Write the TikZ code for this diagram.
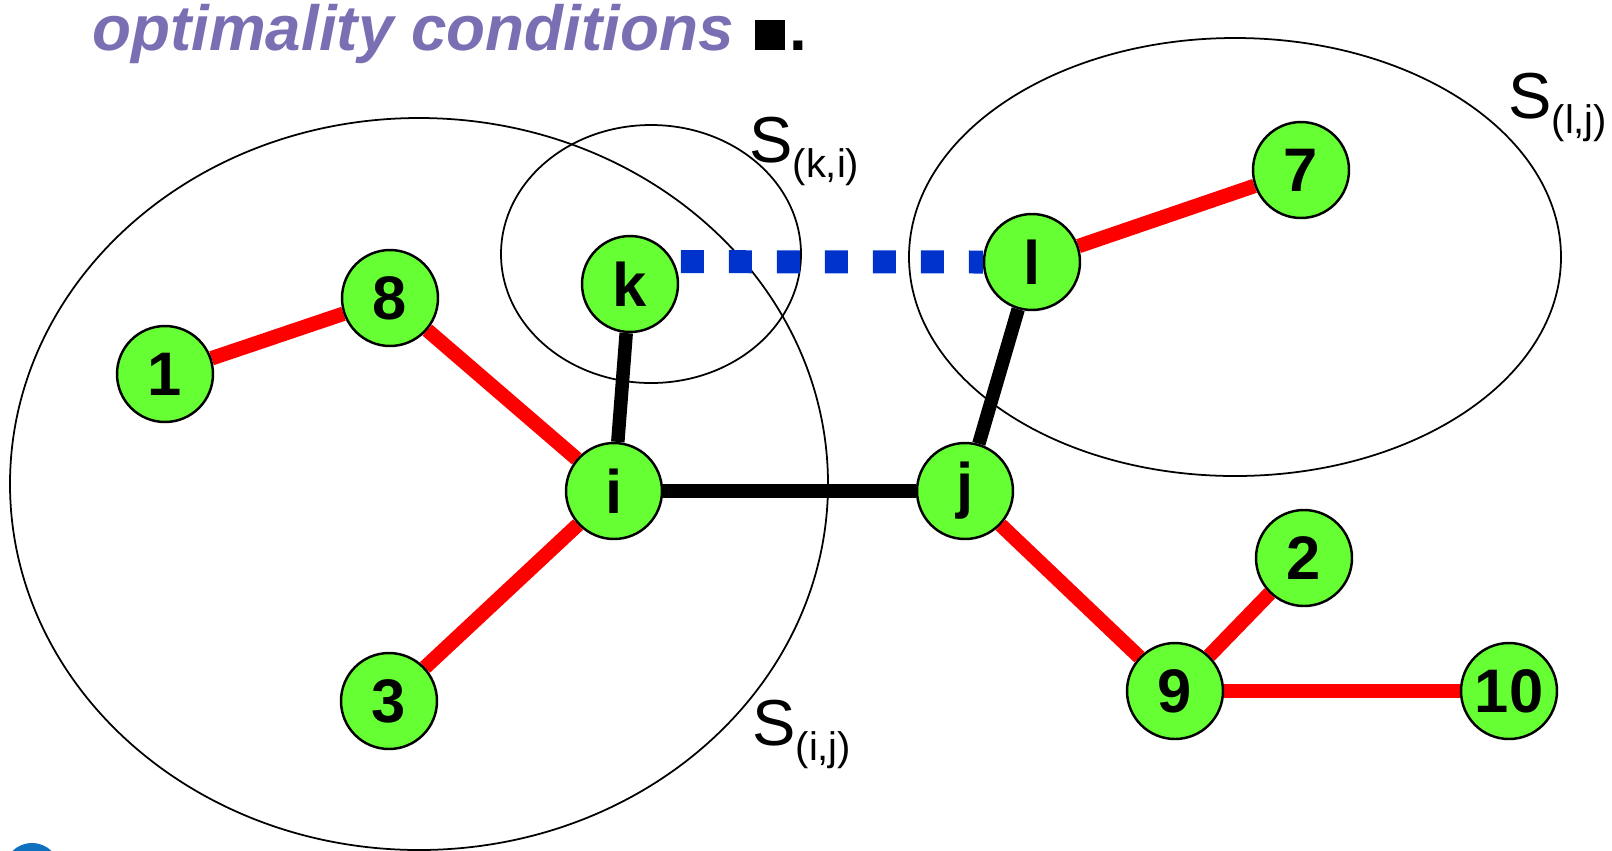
\documentclass[tikz,border=0pt]{standalone}
\usepackage{fontspec}
\setmainfont{Liberation Sans}
\usetikzlibrary{backgrounds}
\definecolor{NodeGreen}{HTML}{66FF33}
\definecolor{TreeRed}{HTML}{FF0000}
\definecolor{SwapBlue}{HTML}{0033CC}
\definecolor{HeadPurple}{HTML}{7B6FB4}
\definecolor{LogoBlue}{HTML}{1070C0}
\newcommand{\setS}[1]{S\raisebox{-0.3cm}{\fontsize{22.7}{22.7}\selectfont #1}}
\tikzset{
  vertex/.style={circle,draw=black,line width=1.4pt,fill=NodeGreen,minimum size=1.92cm,
                 inner sep=0pt,font=\fontsize{35}{35}\selectfont\bfseries},
  treeedge/.style={draw=TreeRed,line width=0.29cm},
  cutedge/.style={draw=black,line width=0.27cm},
  swapedge/.style={draw=SwapBlue,line width=0.46cm,dash pattern=on 0.46cm off 0.5cm,dash phase=0.82cm},
  subtree/.style={draw=black,line width=1pt},
  setlabel/.style={anchor=base west,inner sep=0pt,font=\fontsize{37}{37}\selectfont},
  heading/.style={anchor=base west,inner sep=0pt,text=HeadPurple,
                  font=\fontsize{36.3}{36.3}\selectfont\bfseries\itshape}
}

\begin{document}
\begin{tikzpicture}[x=0.02cm,y=-0.02cm]
  \useasboundingbox (0,0) rectangle (1612,850);
  \node[heading] (head) at (92,50) {optimality conditions\hspace{0.08cm} {\color{black}\upshape\rule{0.6cm}{0.6cm}\hspace{0.08cm}.}};
  \fill[LogoBlue] (32,871) circle (28);

  \node[vertex] (n1) at (165,374) {1};
  \node[vertex] (n8) at (390,298) {8};
  \node[vertex] (k) at (630,284) {k};
  \node[vertex] (l) at (1032,262) {l};
  \node[vertex] (n7) at (1301,170) {7};
  \node[vertex] (i) at (614,491) {i};
  \node[vertex] (j) at (965,491) {j};
  \node[vertex] (n3) at (389,701) {3};
  \node[vertex] (n2) at (1304,558) {2};
  \node[vertex] (n9) at (1175,691) {9};
  \node[vertex] (n10) at (1509,691) {10};

  \node[setlabel] (ski) at (749,162) {\setS{(k,i)}};
  \node[setlabel] (slj) at (1508,118) {\setS{(l,j)}};
  \node[setlabel] (sij) at (752,745) {\setS{(i,j)}};

  \begin{scope}[on background layer]
    % the three subtrees
    \draw[subtree] (419,484) ellipse [x radius=409,y radius=366];
    \draw[subtree] (651,254) ellipse [x radius=150,y radius=129];
    \draw[subtree] (1235,257) ellipse [x radius=326,y radius=219];
    % tree edges
    \draw[treeedge] (n1) -- (n8);
    \draw[treeedge] (n8) -- (i);
    \draw[treeedge] (i) -- (n3);
    \draw[treeedge] (l) -- (n7);
    \draw[treeedge] (j) -- (n9);
    \draw[treeedge] (n9) -- (n2);
    \draw[treeedge] (n9) -- (n10);
    \draw[cutedge] (k) -- (i);
    \draw[cutedge] (i) -- (j);
    \draw[cutedge] (j) -- (l);
    \draw[swapedge] (k.27) -- (l.west);
  \end{scope}
\end{tikzpicture}
\end{document}
